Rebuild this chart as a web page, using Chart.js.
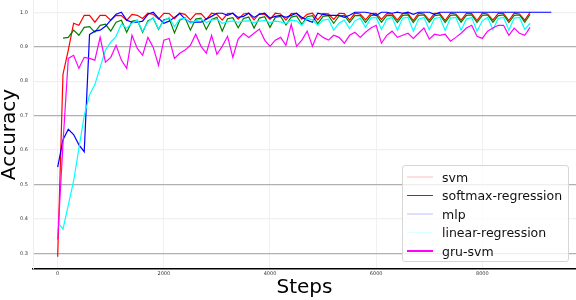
<!DOCTYPE html>
<html>
<head>
<meta charset="utf-8">
<script src="https://cdn.jsdelivr.net/npm/chart.js@4.4.0/dist/chart.umd.min.js"></script>
<style>
  body { margin: 0; background: #fff; }
  #wrap { position: relative; width: 576px; height: 300px; }
  #legenda {
    position: absolute; left: 402px; top: 165px; width: 165px; height: 95px;
    border: 1px solid #d6d6d6; border-radius: 3px; background: rgba(255,255,255,0.8);
    font-family: "DejaVu Sans", sans-serif; font-size: 12.5px; color: #111;
  }
  .item { position: absolute; left: 0; height: 18px; display: flex; align-items: center; white-space: nowrap; }
  .amostra { width: 26px; height: 1.5px; margin-left: 4px; margin-right: 9px; }
</style>
</head>
<body>
<div id="wrap">
  <canvas id="grafico"></canvas>
  <div id="legenda"></div>
</div>
<script>
const passos = [
  0, 100, 200, 300, 400, 500, 600, 700, 800, 900,
  1000, 1100, 1200, 1300, 1400, 1500, 1600, 1700, 1800, 1900,
  2000, 2100, 2200, 2300, 2400, 2500, 2600, 2700, 2800, 2900,
  3000, 3100, 3200, 3300, 3400, 3500, 3600, 3700, 3800, 3900,
  4000, 4100, 4200, 4300, 4400, 4500, 4600, 4700, 4800, 4900,
  5000, 5100, 5200, 5300, 5400, 5500, 5600, 5700, 5800, 5900,
  6000, 6100, 6200, 6300, 6400, 6500, 6600, 6700, 6800, 6900,
  7000, 7100, 7200, 7300, 7400, 7500, 7600, 7700, 7800, 7900,
  8000, 8100, 8200, 8300, 8400, 8500, 8600, 8700, 8800, 8900,
  9000, 9100, 9200, 9300
];

const svm = [
  0.29, 0.82, 0.89, 0.968, 0.962, 0.991, 0.991, 0.971, 0.991, 0.991,
  0.977, 0.991, 0.990, 0.976, 0.994, 0.991, 0.982, 0.997, 0.994, 0.980,
  0.997, 0.996, 0.981, 0.997, 0.994, 0.978, 0.995, 0.996, 0.979, 0.997,
  0.994, 0.977, 0.996, 0.997, 0.980, 0.995, 0.997, 0.978, 0.996, 0.994,
  0.979, 0.997, 0.995, 0.977, 0.996, 0.997, 0.980, 0.994, 0.997, 0.978,
  0.996, 0.995, 0.979, 0.997, 0.996, 0.977, 0.997, 0.995, 0.978, 0.996,
  0.997, 0.979, 0.996, 0.995, 0.977, 0.997, 0.996, 0.976, 0.997, 0.995,
  0.977, 0.997, 0.996, 0.976, 0.997, 0.995, 0.977, 0.997, 0.996, 0.976,
  0.997, 0.995, 0.977, 0.997, 0.996, 0.976, 0.997, 0.995, 0.977, 1.0
];

const softmax = [
  null, 0.925, 0.927, 0.948, 0.933, 0.956, 0.958, 0.942, 0.962, 0.965,
  0.945, 0.971, 0.977, 0.942, 0.974, 0.977, 0.942, 0.975, 0.983, 0.950,
  0.978, 0.982, 0.940, 0.977, 0.984, 0.948, 0.980, 0.983, 0.950, 0.979,
  0.985, 0.945, 0.981, 0.984, 0.955, 0.982, 0.986, 0.954, 0.983, 0.987,
  0.956, 0.985, 0.988, 0.963, 0.986, 0.989, 0.965, 0.987, 0.990, 0.967,
  0.988, 0.990, 0.968, 0.989, 0.991, 0.970, 0.990, 0.991, 0.970, 0.990,
  0.992, 0.971, 0.990, 0.991, 0.970, 0.991, 0.992, 0.970, 0.991, 0.992,
  0.971, 0.990, 0.992, 0.970, 0.991, 0.992, 0.971, 0.991, 0.992, 0.970,
  0.991, 0.992, 0.971, 0.990, 0.992, 0.970, 0.991, 0.992, 0.971, 0.994
];

const mlp = [
  0.55, 0.63, 0.66, 0.645, 0.615, 0.595, 0.935, 0.945, 0.948, 0.959,
  0.977, 0.994, 1.0, 0.977, 0.971, 0.971, 0.974, 0.994, 1.0, 0.983,
  0.968, 0.974, 0.985, 0.997, 0.980, 0.971, 0.971, 0.971, 0.980, 0.988,
  0.997, 0.997, 0.991, 0.997, 0.985, 0.988, 0.997, 0.985, 0.994, 0.997,
  0.983, 0.988, 0.991, 0.985, 0.991, 0.997, 0.985, 0.977, 0.971, 0.997,
  0.994, 0.991, 0.991, 0.991, 0.985, 0.991, 1.0, 1.0, 1.0, 0.997,
  0.991, 1.0, 1.0, 0.997, 1.0, 0.997, 1.0, 0.994, 1.0, 1.0,
  1.0, 0.994, 1.0, 1.0, 1.0, 1.0, 1.0, 1.0, 1.0, 1.0,
  1.0, 1.0, 1.0, 1.0, 1.0, 1.0, 1.0, 1.0, 1.0, 1.0,
  1.0, 1.0, 1.0, 1.0
];

const linearReg = [
  0.39, 0.37, 0.44, 0.51, 0.605, 0.70, 0.76, 0.79, 0.84, 0.89,
  0.913, 0.93, 0.965, 0.954, 0.968, 0.977, 0.945, 0.971, 0.985, 0.952,
  0.975, 0.985, 0.958, 0.980, 0.983, 0.968, 0.975, 0.980, 0.970, 0.977,
  0.980, 0.968, 0.972, 0.975, 0.971, 0.974, 0.975, 0.970, 0.974, 0.976,
  0.970, 0.974, 0.972, 0.968, 0.977, 0.975, 0.962, 0.983, 0.978, 0.962,
  0.977, 0.980, 0.948, 0.968, 0.977, 0.952, 0.975, 0.983, 0.956, 0.983,
  0.985, 0.950, 0.980, 0.985, 0.948, 0.983, 0.985, 0.945, 0.980, 0.985,
  0.950, 0.982, 0.985, 0.947, 0.983, 0.985, 0.948, 0.980, 0.985, 0.945,
  0.975, 0.985, 0.950, 0.982, 0.985, 0.948, 0.983, 0.985, 0.950, 0.968
];

const gruSvm = [
  0.34, 0.62, 0.866, 0.875, 0.837, 0.869, 0.866, 0.861, 0.927, 0.855,
  0.869, 0.904, 0.861, 0.837, 0.933, 0.895, 0.875, 0.927, 0.898, 0.846,
  0.919, 0.924, 0.866, 0.881, 0.890, 0.904, 0.936, 0.901, 0.881, 0.933,
  0.878, 0.901, 0.930, 0.869, 0.922, 0.939, 0.927, 0.939, 0.951, 0.919,
  0.901, 0.919, 0.927, 0.904, 0.965, 0.901, 0.919, 0.945, 0.901, 0.939,
  0.927, 0.919, 0.933, 0.927, 0.910, 0.933, 0.942, 0.927, 0.942, 0.954,
  0.962, 0.910, 0.933, 0.945, 0.927, 0.933, 0.939, 0.924, 0.939, 0.954,
  0.922, 0.936, 0.933, 0.936, 0.916, 0.927, 0.939, 0.954, 0.962, 0.930,
  0.924, 0.945, 0.954, 0.962, 0.962, 0.933, 0.954, 0.939, 0.933, 0.956
];

const ticksY = [0.3, 0.4, 0.5, 0.6, 0.7, 0.8, 0.9, 1.0];
const ticksX = [0, 2000, 4000, 6000, 8000];
const gradeForte = [0.3, 0.5, 0.7, 0.9];

function serie(nome, valores, cor, corLegenda, ordem) {
  return {
    label: nome,
    data: valores,
    borderColor: cor,
    backgroundColor: cor,
    corLegenda: corLegenda,
    borderWidth: 1.2,
    pointRadius: 0,
    tension: 0,
    fill: false,
    order: ordem
  };
}

const datasets = [
  serie("svm", svm, "#ff0000", "#ffdede", 4),
  serie("softmax-regression", softmax, "#008000", "#008000", 3),
  serie("mlp", mlp, "#0000ff", "#dedeff", 2),
  serie("linear-regression", linearReg, "#00ffff", "#dcffff", 1),
  serie("gru-svm", gruSvm, "#ff00ff", "#ff00ff", 0)
];

const fonteTitulo = { family: "DejaVu Sans", size: 20, lineHeight: 1 };
const fonteTick = { family: "DejaVu Sans", size: 5 };

// zera o espaço extra que o Chart.js reserva para os rótulos
function semPadding(s) {
  s.paddingTop = 0;
  s.paddingBottom = 0;
  s.paddingLeft = 0;
  s.paddingRight = 0;
}

const grafico = new Chart(document.getElementById("grafico"), {
  type: "line",
  data: { labels: passos, datasets: datasets },
  options: {
    responsive: true,
    maintainAspectRatio: false,
    animation: false,
    layout: { padding: 0, autoPadding: false },
    plugins: { legend: { display: false }, tooltip: { enabled: false } },
    scales: {
      x: {
        type: "linear",
        min: -465,
        max: 9765,
        afterBuildTicks: (s) => { s.ticks = ticksX.map(v => ({ value: v })); },
        afterFit: (s) => { s.height = 31; semPadding(s); },
        ticks: { font: fonteTick, color: "#333", padding: 2, maxRotation: 0, autoSkip: false, callback: v => String(v) },
        grid: { color: "#f0f0f0", drawTicks: false },
        border: { color: "#000", width: 1.5 },
        title: { display: true, text: "Steps", color: "#000", font: fonteTitulo, padding: { top: 0, bottom: 2 } }
      },
      y: {
        min: 0.2545,
        max: 1.0355,
        afterBuildTicks: (s) => { s.ticks = ticksY.map(v => ({ value: v })); },
        afterFit: (s) => { s.width = 33; semPadding(s); },
        ticks: { font: fonteTick, color: "#333", padding: 5, callback: v => v.toFixed(1) },
        grid: {
          drawTicks: false,
          lineWidth: 1.2,
          color: (c) => gradeForte.some(g => Math.abs(g - c.tick.value) < 1e-6) ? "#b0b0b0" : "#f0f0f0"
        },
        border: { color: "#eeeeee" },
        title: { display: true, text: "Accuracy", color: "#000", font: fonteTitulo, padding: 0 }
      }
    }
  }
});

// legenda dentro da área do gráfico, como no original
const legenda = document.getElementById("legenda");
grafico.data.datasets.forEach((ds, i) => {
  const item = document.createElement("div");
  item.className = "item";
  item.style.top = (2 + i * 18.5) + "px";
  const amostra = document.createElement("span");
  amostra.className = "amostra";
  amostra.style.background = ds.corLegenda;
  const texto = document.createElement("span");
  texto.textContent = ds.label;
  item.appendChild(amostra);
  item.appendChild(texto);
  legenda.appendChild(item);
});
</script>
</body>
</html>
